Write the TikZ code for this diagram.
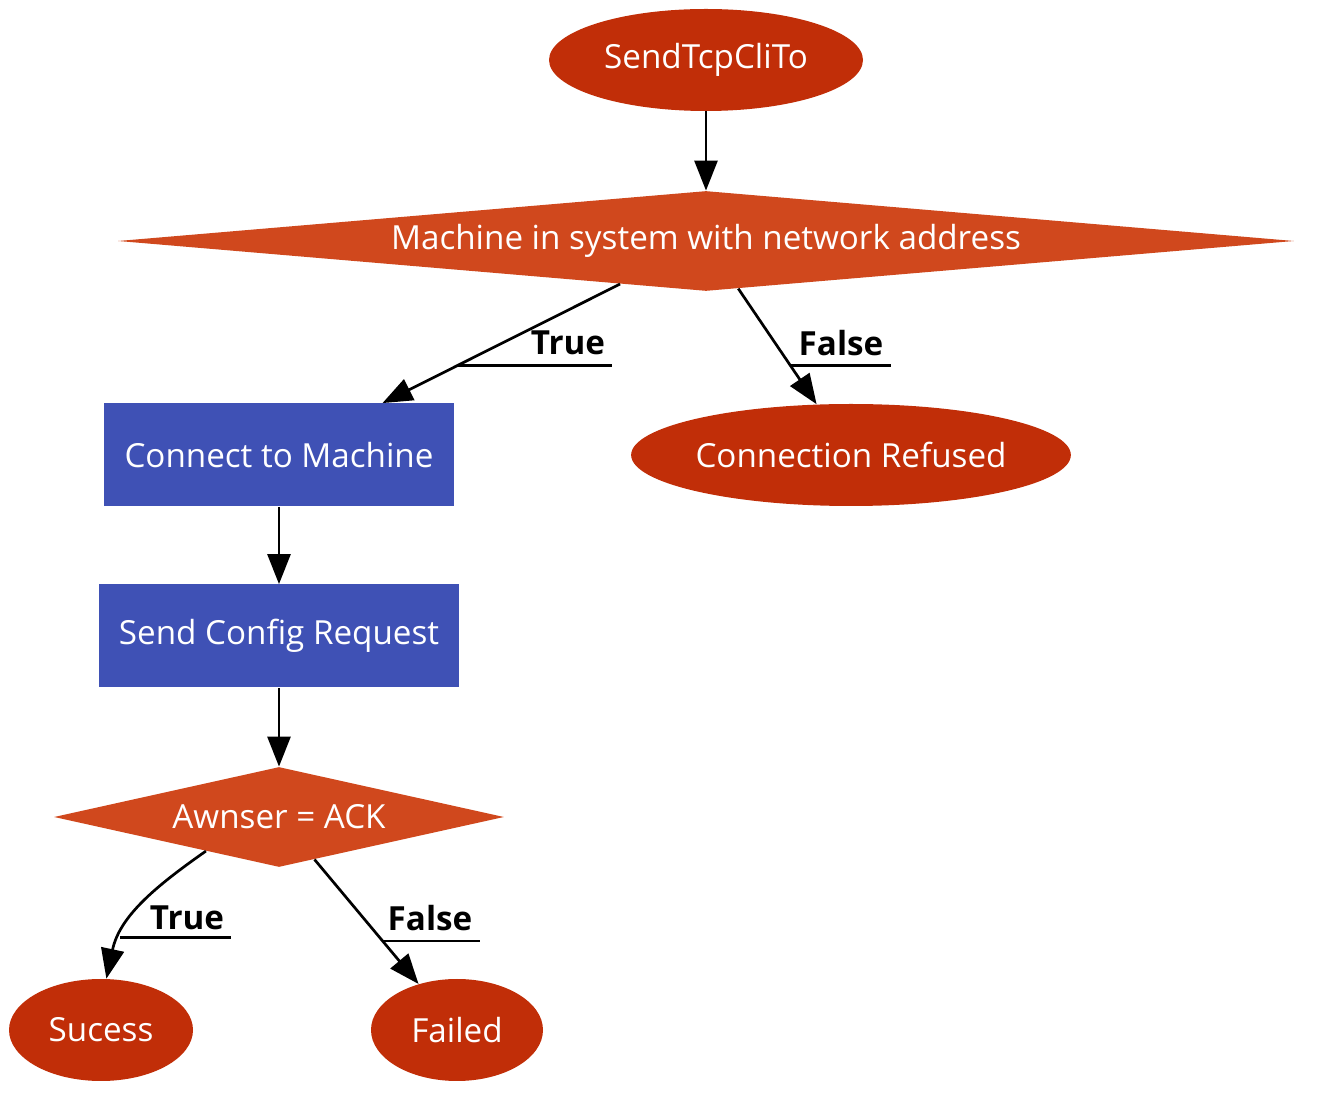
\documentclass[tikz,border=0pt]{standalone}
\usepackage{fontspec}
\setmainfont{Open Sans}
\usetikzlibrary{arrows.meta, shapes.geometric}
\definecolor{termred}{RGB}{193,46,8}
\definecolor{testred}{RGB}{208,72,29}
\definecolor{procblue}{RGB}{63,81,181}
\tikzset{term/.style={ellipse, fill=termred, text=white, inner sep=0pt, minimum height=51pt}}
\tikzset{test/.style={diamond, fill=testred, text=white, inner sep=0pt, minimum height=50pt}}
\tikzset{proc/.style={rectangle, fill=procblue, text=white, minimum height=51.5pt}}
\tikzset{lbl/.style={font=\fontsize{16.6}{20}\selectfont\bfseries, inner xsep=3.5pt, inner ysep=0pt}}
\tikzset{flow/.style={-{Triangle[length=15pt, width=11.5pt]}, line width=1.35pt}}
\tikzset{uline/.style={line width=1.35pt}}

\begin{document}
\begin{tikzpicture}[x=0.5pt, y=0.5pt, font=\fontsize{16.6}{20}\selectfont]
            \useasboundingbox (0,0) rectangle (1319,-1106);
            \node[term, minimum width=157pt] (send) at (706,-60) {SendTcpCliTo};
            \node[test, shape aspect=15, minimum width=588pt] (mach) at (706,-241) {Machine in system with network address};
            \node[proc, minimum width=175pt] (conn) at (279,-455) {Connect to Machine};
            \node[term, minimum width=219pt] (refused) at (851,-455) {Connection Refused};
            \node[proc, minimum width=180pt] (cfg) at (279,-636) {Send Config Request};
            \node[test, shape aspect=4, minimum width=225pt] (ans) at (279,-817) {Awnser = ACK};
            \node[term, minimum width=92pt] (sucess) at (101,-1030) {Sucess};
            \node[term, minimum width=86pt] (failed) at (457,-1030) {Failed};
            \draw[flow] (send) -- (mach);
            \draw[flow] (mach) -- coordinate[pos=0.683] (tu1) (conn);
            \draw[flow] (mach) -- coordinate[pos=0.667] (fu1) (refused);
            \draw[flow] (conn) -- (cfg);
            \draw[flow] (cfg) -- (ans);
            \draw[flow] (ans.-155) to[out=-145, in=78] coordinate[pos=0.75] (tu2) (sucess.84);
            \draw[flow] (ans) -- coordinate[pos=0.656] (fu2) (failed);
            \node[lbl] (ltrue) at (568,-343) {True};
            \node[lbl] (lfalse) at (841,-343) {False};
            \node[lbl] (ltrue2) at (187,-918) {True};
            \node[lbl] (lfalse2) at (430,-918) {False};
            \draw[uline] (tu1) -- (tu1 -| ltrue.east);
            \draw[uline] (fu1) -- (fu1 -| lfalse.east);
            \draw[uline] (tu2) -- (tu2 -| ltrue2.east);
            \draw[uline] (fu2) -- (fu2 -| lfalse2.east);
        \end{tikzpicture}
\end{document}
